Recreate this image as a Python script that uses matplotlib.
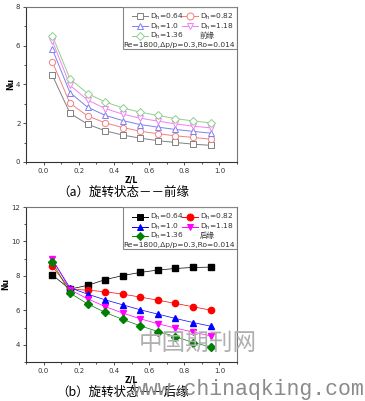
import numpy as np
import matplotlib.pyplot as plt
from matplotlib.patches import Rectangle
from matplotlib.ticker import MultipleLocator

plt.rcParams['font.family'] = ['DejaVu Sans', 'Noto Sans CJK SC']

zl = [0.05, 0.15, 0.25, 0.35, 0.45, 0.55, 0.65, 0.75, 0.85, 0.95]
labels = ['D$_\\mathregular{h}$=0.64', 'D$_\\mathregular{h}$=0.82', 'D$_\\mathregular{h}$=1.0',
          'D$_\\mathregular{h}$=1.18', 'D$_\\mathregular{h}$=1.36']

# (a) leading edge
nu_a_064 = [4.47, 2.52, 1.95, 1.61, 1.39, 1.23, 1.10, 1.01, 0.92, 0.86]
nu_a_082 = [5.17, 3.03, 2.38, 2.02, 1.78, 1.59, 1.46, 1.35, 1.27, 1.18]
nu_a_100 = [5.82, 3.58, 2.83, 2.41, 2.14, 1.93, 1.80, 1.68, 1.58, 1.49]
nu_a_118 = [6.25, 3.96, 3.20, 2.76, 2.47, 2.26, 2.11, 1.97, 1.85, 1.76]
nu_a_136 = [6.51, 4.30, 3.53, 3.10, 2.79, 2.57, 2.40, 2.24, 2.12, 2.02]

# (b) trailing edge
nu_b_064 = [8.05, 7.23, 7.45, 7.78, 8.02, 8.20, 8.34, 8.43, 8.49, 8.51]
nu_b_082 = [8.55, 7.23, 7.17, 7.08, 6.94, 6.77, 6.59, 6.40, 6.21, 6.01]
nu_b_100 = [8.94, 7.31, 6.94, 6.61, 6.32, 6.03, 5.78, 5.53, 5.29, 5.08]
nu_b_118 = [8.98, 7.20, 6.67, 6.22, 5.84, 5.51, 5.22, 4.97, 4.74, 4.52]
nu_b_136 = [8.80, 7.00, 6.38, 5.88, 5.47, 5.10, 4.77, 4.48, 4.13, 3.88]

cols_a = ['#808080', '#f47f7f', '#7f7ff4', '#f47ff4', '#8fcf8f']
cols_b = ['#000000', '#ff0000', '#0000ff', '#ff00ff', '#008000']
markers = ['s', 'o', '^', 'v', 'D']
msizes = [4, 4.5, 4.5, 4.5, 4]

fig = plt.figure(figsize=(3.65, 4.01), dpi=100)
W, H = 365, 401
AX_W, AX_H = 211, 155
ax1 = fig.add_axes([26/W, 1-162/H, AX_W/W, AX_H/H])
ax2 = fig.add_axes([26/W, 1-362/H, AX_W/W, AX_H/H])


def style_axes(ax, ylim, ystep):
    ax.set_xlim(-0.1, 1.1)
    ax.set_ylim(*ylim)
    ax.xaxis.set_major_locator(MultipleLocator(0.2))
    ax.xaxis.set_minor_locator(MultipleLocator(0.1))
    ax.yaxis.set_major_locator(MultipleLocator(ystep))
    ax.yaxis.set_minor_locator(MultipleLocator(ystep/2))
    ax.tick_params(which='both', direction='out', labelsize=5, width=0.6, colors='#333333')
    ax.tick_params(which='major', length=2.5)
    ax.tick_params(which='minor', length=1.5)
    ax.tick_params(axis='x', pad=2)
    ax.tick_params(axis='y', pad=1.5)
    for s in ['top', 'right']:
        ax.spines[s].set_color('#777777')
        ax.spines[s].set_linewidth(0.8)
    for s in ['left', 'bottom']:
        ax.spines[s].set_color('#333333')
        ax.spines[s].set_linewidth(0.8)
    ax.set_xlabel('Z/L', fontsize=5.5, fontweight='bold', labelpad=1)
    ax.set_ylabel('Nu', fontsize=5.5, fontweight='bold', labelpad=0.5)


def legend_box(ax, cols, filled, edge_word):
    # hand-made legend: offsets in pixels from axes top-left
    ax.add_patch(Rectangle((0.46, 0.728), 0.54, 0.272, transform=ax.transAxes,
                           fill=False, edgecolor='#888888', lw=0.8, zorder=5))
    def xa(px):
        return (px - 26) / AX_W
    def ya(py):
        return 1 - py / AX_H
    rows = [9.5, 19.5, 29]
    slots = [(0, 0), (1, 0), (0, 1), (1, 1), (0, 2)]
    for k, (col, row) in enumerate(slots):
        x0 = 132 if col == 0 else 182
        y = ya(rows[row])
        c = cols[k]
        ax.plot([xa(x0), xa(x0 + 16)], [y, y], color=c, lw=0.7,
                transform=ax.transAxes, clip_on=False, zorder=6)
        ax.plot([xa(x0 + 8)], [y], color=c, marker=markers[k], markersize=msizes[k] + 0.5,
                markerfacecolor=c if filled else 'white', markeredgecolor=c,
                markeredgewidth=0.7, transform=ax.transAxes, clip_on=False, zorder=6)
        ax.text(xa(x0 + 18), y, labels[k], transform=ax.transAxes, ha='left',
                va='center', fontsize=5.4, color='#333333')
    ax.text(xa(207), ya(rows[2]), edge_word, transform=ax.transAxes, ha='center',
            va='center', fontsize=5.4, color='#333333',
            family=['Noto Sans CJK SC', 'DejaVu Sans'])
    ax.text(xa(179), ya(38), 'Re=1800,\u0394p/p=0.3,Ro=0.014', transform=ax.transAxes,
            ha='center', va='center', fontsize=5.4, color='#333333')


style_axes(ax1, (0, 8), 2)
for y, c, m, ms in zip([nu_a_064, nu_a_082, nu_a_100, nu_a_118, nu_a_136], cols_a, markers, msizes):
    ax1.plot(zl, y, color=c, marker=m, markersize=ms, markerfacecolor='white',
             markeredgecolor=c, markeredgewidth=0.7, lw=0.7)
legend_box(ax1, cols_a, False, '前缘')

style_axes(ax2, (3, 12), 2)
ax2.set_yticks([4, 6, 8, 10, 12])
for y, c, m, ms in zip([nu_b_064, nu_b_082, nu_b_100, nu_b_118, nu_b_136], cols_b, markers, msizes):
    ax2.plot(zl, y, color=c, marker=m, markersize=ms, markerfacecolor=c,
             markeredgecolor=c, lw=0.5)
legend_box(ax2, cols_b, True, '后缘')

fig.text(123/W, 1-192/H, '（a）旋转状态－－前缘', ha='center', va='center', fontsize=9,
         family=['Noto Sans CJK SC', 'DejaVu Sans'])
fig.text(123/W, 1-392/H, '（b）旋转状态－－后缘', ha='center', va='center', fontsize=9,
         family=['Noto Sans CJK SC', 'DejaVu Sans'])

# watermark
fig.text(198/W, 1-343/H, '中国期刊网', ha='center', va='center', fontsize=17,
         color='#b0b0b0', family=['Noto Sans CJK SC'])
fig.text(249/W, 1-390/H, 'www.chinaqking.com', ha='center', va='center', fontsize=15.5,
         color='#8a8a8a', family=['Liberation Mono'])

fig.savefig('out.png', dpi=100)
